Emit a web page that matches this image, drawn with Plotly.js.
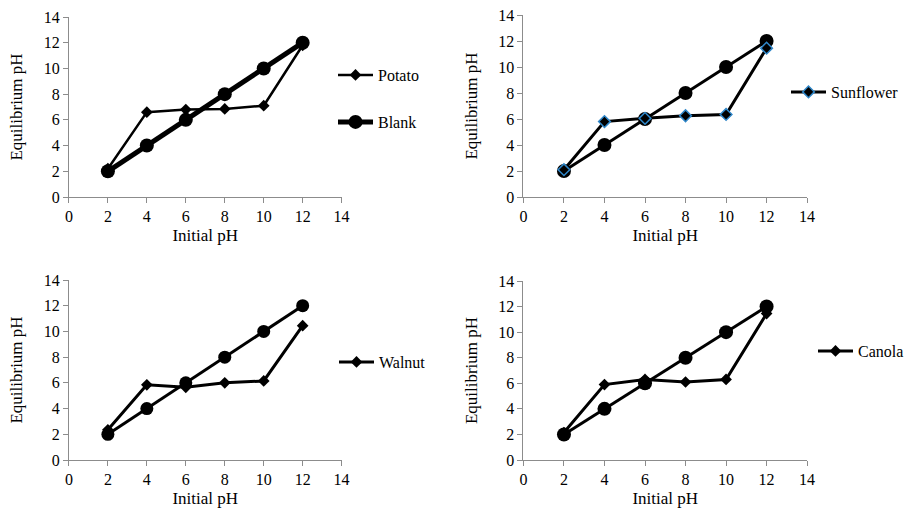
<!DOCTYPE html>
<html>
<head>
<meta charset="utf-8">
<script src="https://cdn.plot.ly/plotly-3.0.1.min.js"></script>
<style>html,body{margin:0;padding:0;background:#fff;}#chart{width:909px;height:516px;}</style>
</head>
<body>
<div id="chart"></div>
<script>
const initialPH = [2, 4, 6, 8, 10, 12];
const blank = [2, 4, 6, 8, 10, 12];
const potato = [2.2, 6.6, 6.8, 6.85, 7.1, 11.8];
const sunflower = [2.1, 5.8, 6.05, 6.25, 6.35, 11.45];
const walnut = [2.35, 5.85, 5.65, 6.0, 6.15, 10.45];
const canola = [2.15, 5.9, 6.3, 6.1, 6.3, 11.45];
const xTicks = [0, 2, 4, 6, 8, 10, 12, 14];
const yTicks = [0, 2, 4, 6, 8, 10, 12, 14];

const W = 909, H = 516;
const FONT = 'Liberation Serif, Times New Roman, serif';
const fx = p => p / W;
const fy = p => 1 - p / H;

const traces = [
  {x: initialPH, y: potato, name: 'Potato', mode: 'lines+markers', xaxis: 'x', yaxis: 'y', legend: 'legend',
   line: {color: '#000', width: 2.5}, marker: {symbol: 'diamond', size: 9, color: '#000'}},
  {x: initialPH, y: blank, name: 'Blank', mode: 'lines+markers', xaxis: 'x', yaxis: 'y', legend: 'legend5',
   line: {color: '#000', width: 5}, marker: {symbol: 'circle', size: 14, color: '#000'}},
  {x: initialPH, y: blank, name: 'Blank', mode: 'lines+markers', xaxis: 'x2', yaxis: 'y2', showlegend: false,
   line: {color: '#000', width: 3}, marker: {symbol: 'circle', size: 14, color: '#000'}},
  {x: initialPH, y: sunflower, name: 'Sunflower', mode: 'lines+markers', xaxis: 'x2', yaxis: 'y2', legend: 'legend2',
   line: {color: '#000', width: 3}, marker: {symbol: 'diamond', size: 9, color: '#000', line: {color: '#2f86c8', width: 1.5}}},
  {x: initialPH, y: blank, name: 'Blank', mode: 'lines+markers', xaxis: 'x3', yaxis: 'y3', showlegend: false,
   line: {color: '#000', width: 3}, marker: {symbol: 'circle', size: 13, color: '#000'}},
  {x: initialPH, y: walnut, name: 'Walnut', mode: 'lines+markers', xaxis: 'x3', yaxis: 'y3', legend: 'legend3',
   line: {color: '#000', width: 3}, marker: {symbol: 'diamond', size: 9, color: '#000'}},
  {x: initialPH, y: blank, name: 'Blank', mode: 'lines+markers', xaxis: 'x4', yaxis: 'y4', showlegend: false,
   line: {color: '#000', width: 3}, marker: {symbol: 'circle', size: 14, color: '#000'}},
  {x: initialPH, y: canola, name: 'Canola', mode: 'lines+markers', xaxis: 'x4', yaxis: 'y4', legend: 'legend4',
   line: {color: '#000', width: 3}, marker: {symbol: 'diamond', size: 9, color: '#000'}}
];

function xa(domain, anchor) {
  return {domain: domain, anchor: anchor, range: [0, 14], tickvals: xTicks, ticktext: xTicks.map(String),
    showgrid: false, zeroline: false, showline: true, linecolor: '#8c8c8c', linewidth: 1,
    ticks: 'outside', ticklen: 5, tickcolor: '#8c8c8c', tickfont: {family: FONT, size: 16, color: '#000'},
    title: {text: 'Initial pH', font: {family: FONT, size: 17, color: '#000'}, standoff: 4}, automargin: false, fixedrange: true};
}
function ya(domain, anchor) {
  return {domain: domain, anchor: anchor, range: [0, 14], tickvals: yTicks, ticktext: yTicks.map(String),
    showgrid: false, zeroline: false, showline: true, linecolor: '#8c8c8c', linewidth: 1,
    ticks: 'outside', ticklen: 5, tickcolor: '#8c8c8c', tickfont: {family: FONT, size: 16, color: '#000'},
    title: {text: 'Equilibrium pH', font: {family: FONT, size: 17, color: '#000'}, standoff: 16}, automargin: false, fixedrange: true};
}
function lg(xp, yp) {
  return {x: fx(xp), y: fy(yp), xanchor: 'left', yanchor: 'middle', bgcolor: 'rgba(0,0,0,0)',
    font: {family: FONT, size: 16, color: '#000'}, itemwidth: 35, tracegroupgap: 0};
}

const layout = {
  width: W, height: H,
  margin: {l: 0, r: 0, t: 0, b: 0},
  paper_bgcolor: '#fff', plot_bgcolor: '#fff',
  showlegend: true,
  xaxis: xa([fx(69), fx(342)], 'y'),
  yaxis: ya([fy(197), fy(17)], 'x'),
  xaxis2: xa([fx(524), fx(808)], 'y2'),
  yaxis2: ya([fy(197), fy(15)], 'x2'),
  xaxis3: xa([fx(69), fx(342)], 'y3'),
  yaxis3: ya([fy(460), fy(280)], 'x3'),
  xaxis4: xa([fx(524), fx(808)], 'y4'),
  yaxis4: ya([fy(460), fy(281)], 'x4'),
  legend: lg(333, 75),
  legend5: lg(333, 122),
  legend2: lg(786, 92),
  legend3: lg(334, 362),
  legend4: lg(814, 351)
};

Plotly.newPlot('chart', traces, layout, {displayModeBar: false, staticPlot: true});
</script>
</body>
</html>
